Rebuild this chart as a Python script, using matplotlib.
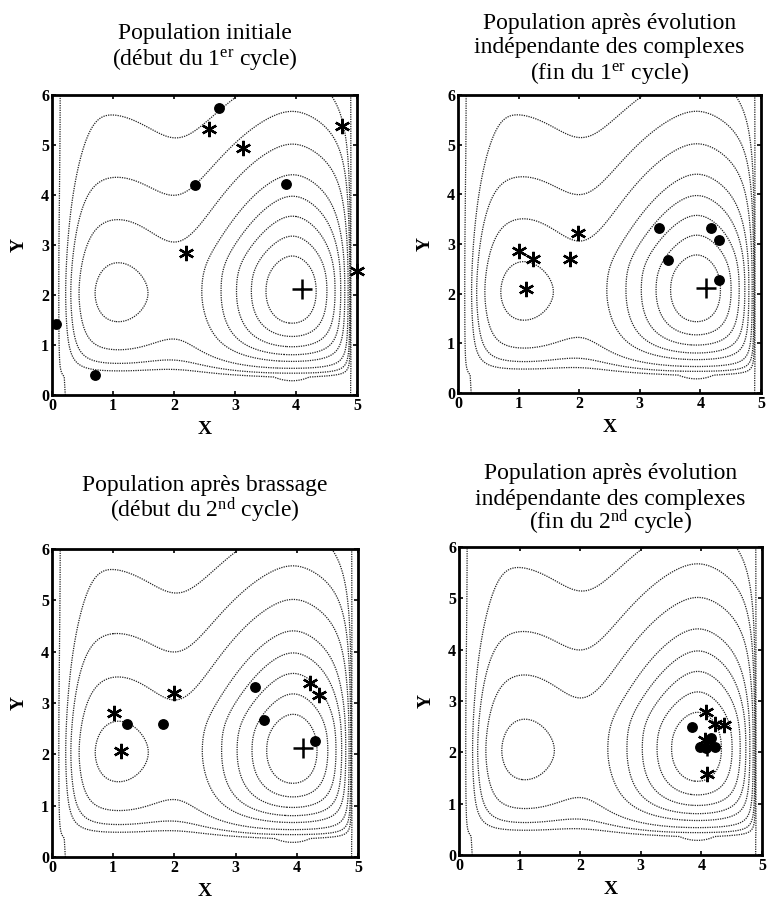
import numpy as np
import matplotlib
matplotlib.use('Agg')
import matplotlib.pyplot as plt

plt.rcParams['font.family'] = ['Liberation Serif', 'DejaVu Serif']
plt.rcParams['mathtext.fontset'] = 'custom'
plt.rcParams['mathtext.rm'] = 'Liberation Serif'
plt.rcParams['mathtext.it'] = 'Liberation Serif:italic'
plt.rcParams['mathtext.bf'] = 'Liberation Serif:bold'

# ---------------- data ----------------
title_lines = [
    ["Population initiale", "(début du 1$^{\\rm er}$ cycle)"],
    ["Population après évolution", "indépendante des complexes", "(fin du 1$^{\\rm er}$ cycle)"],
    ["Population après brassage", "(début du 2$^{\\rm nd}$ cycle)"],
    ["Population après évolution", "indépendante des complexes", "(fin du 2$^{\\rm nd}$ cycle)"],
]

p1_star_x = [2.57, 3.13, 4.75, 2.20, 5.00]
p1_star_y = [5.31, 4.93, 5.37, 2.83, 2.47]
p1_dot_x = [2.73, 2.35, 3.83, 0.06, 0.71]
p1_dot_y = [5.73, 4.20, 4.21, 1.42, 0.40]

p2_star_x = [1.01, 1.24, 1.98, 1.84, 1.12]
p2_star_y = [2.85, 2.70, 3.22, 2.70, 2.09]
p2_dot_x = [3.31, 4.17, 4.31, 3.47, 4.30]
p2_dot_y = [3.32, 3.32, 3.08, 2.68, 2.28]

p3_star_x = [1.02, 1.13, 1.99, 4.22, 4.36]
p3_star_y = [2.80, 2.06, 3.20, 3.39, 3.15]
p3_dot_x = [1.23, 1.82, 3.32, 3.47, 4.29]
p3_dot_y = [2.59, 2.60, 3.31, 2.66, 2.26]

p4_star_x = [4.08, 4.22, 4.38, 4.09, 4.06]
p4_star_y = [2.79, 2.56, 2.53, 1.58, 2.24]
p4_dot_x = [3.85, 4.16, 4.08, 3.97, 4.22]
p4_dot_y = [2.50, 2.27, 2.08, 2.11, 2.11]

optimum_x = 4.10
optimum_y = 2.12

stars_x = [p1_star_x, p2_star_x, p3_star_x, p4_star_x]
stars_y = [p1_star_y, p2_star_y, p3_star_y, p4_star_y]
dots_x = [p1_dot_x, p2_dot_x, p3_dot_x, p4_dot_x]
dots_y = [p1_dot_y, p2_dot_y, p3_dot_y, p4_dot_y]

# points lying on each drawn contour (one per level)
level_anchor_x = [4.0, 4.0, 4.0, 4.0, 4.0, 1.0, 1.0, 1.0, 0.115]
level_anchor_y = [2.77, 3.17, 3.57, 3.97, 4.40, 3.50, 4.35, 5.60, 3.0]

x_ticks = [0, 1, 2, 3, 4, 5]
y_ticks = [0, 1, 2, 3, 4, 5, 6]

# ---------------- test surface (two basins) ----------------
def surface(x, y):
    eps = 0.3
    up = np.clip(y - 2.05, 0, None)
    q = 2.0 - 0.5 * (1 - np.exp(-(up / 0.7) ** 2))
    ux = ((((x - 3.95) / 0.9) ** 2 + eps ** 2) ** (q / 2) - eps ** q)
    uy = np.abs((y - 2.05) / 1.5) ** q
    g_right = 1.0 * np.exp(-0.5 * (ux + uy) ** (2.0 / q))
    vy = (((y - 2.03) ** 2 + eps ** 2) ** (1.55 / 2) - eps ** 1.55)
    g_left = 0.35 * np.exp(-0.5 * ((x - 1.05) / 0.66) ** 2) * np.exp(-0.56 * vy)
    back = 0.019 * np.exp(-(x - 1.0) * 0.15)
    F = g_right + g_left + back
    dl = np.clip(x - 0.1, 0, None)
    dr = np.clip(4.9 - x, 0, None)
    wl = 1 - np.exp(-(dl / 0.354) ** 1.8)
    wr = 1 - np.exp(-dr / 0.16)
    wy = 0.05 + 0.95 * (1 - np.exp(-(np.clip(y - 0.36, 0, None) / 0.468) ** 1.45))
    return -F * wl * wr * wy

gx = np.linspace(0, 5, 501)
gy = np.linspace(0, 6, 601)
X, Y = np.meshgrid(gx, gy)
Z = surface(X, Y)
levels = np.sort(surface(np.array(level_anchor_x), np.array(level_anchor_y)))

# ---------------- figure ----------------
W, H = 767, 901
fig = plt.figure(figsize=(W / 100, H / 100), dpi=100)
boxes = [
    (52, 95, 305, 300),
    (458, 95, 303, 298),
    (52, 549, 306, 308),
    (459, 547, 303, 308),
]
title_base = [
    [39.5, 64.5],
    [28.5, 53.5, 79.5],
    [491.5, 517.5],
    [478.5, 504.5, 529.5],
]

for i, (l, t, w, h) in enumerate(boxes):
    ax = fig.add_axes([l / W, (H - t - h) / H, w / W, h / H])
    ax.contour(X, Y, Z, levels=levels, colors='#222222', linewidths=0.9,
               linestyles=[(0, (1.0, 0.9))])
    ax.plot(dots_x[i], dots_y[i], 'o', color='black', ms=6.8, clip_on=True)
    ax.plot(stars_x[i], stars_y[i], linestyle='none', marker=(6, 2, 0),
            color='black', ms=11, mew=1.7, clip_on=False)
    ax.plot([optimum_x], [optimum_y], '+', color='black', ms=15, mew=1.8)
    ax.set_xlim(0, 5)
    ax.set_ylim(0, 6)
    ax.set_xticks(x_ticks)
    ax.set_yticks(y_ticks)
    ax.set_xticklabels([str(v) for v in x_ticks], fontweight='bold')
    ax.set_yticklabels([str(v) for v in y_ticks], fontweight='bold')
    ax.tick_params(direction='in', length=3, width=1.2, top=True, right=True,
                   labelsize=11.5, pad=2)
    for s in ax.spines.values():
        s.set_linewidth(2.0)
    ax.set_xlabel('X', fontsize=14, fontweight='bold', labelpad=5)
    ax.set_ylabel('Y', fontsize=14, fontweight='bold', labelpad=10)
    cx = (l + w / 2) / W
    for line, yb in zip(title_lines[i], title_base[i]):
        fig.text(cx, (H - yb) / H, line, ha='center', va='baseline', fontsize=17)

fig.savefig('out.png', dpi=100)
